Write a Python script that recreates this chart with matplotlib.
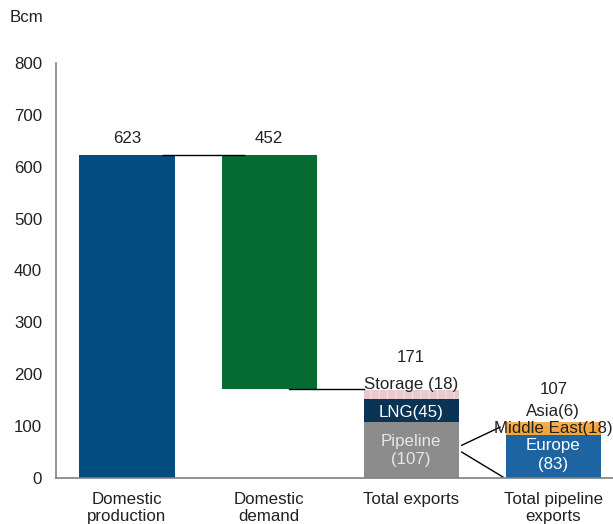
import numpy as np
import matplotlib.pyplot as plt

plt.rcParams['font.family'] = ['Liberation Sans', 'DejaVu Sans']

categories = ["Domestic\nproduction", "Domestic\ndemand", "Total exports", "Total pipeline\nexports"]
production = 623
demand = 452
exports_total = 171
export_parts = [107, 45, 18]          # pipeline, LNG, storage
export_names = ["Pipeline", "LNG", "Storage"]
pipeline_parts = [83, 18, 6]          # Europe, Middle East, Asia
pipeline_names = ["Europe", "Middle East", "Asia"]
pipeline_total = 107
yticks = [0, 100, 200, 300, 400, 500, 600, 700, 800]

c_prod = '#014c80'
c_dem = '#066b31'
c_pipe = '#8c8c8c'
c_lng = '#0b3356'
c_stor = '#eac7cb'
c_eur = '#1d64a3'
c_me = '#f5a53e'
c_asia = '#f3b04e'

fig = plt.figure(figsize=(6.13, 5.24), dpi=100)
ax = fig.add_axes([56/613, 1-478/524, 1-56/613, (478-63)/524])

w = 0.67
x = np.arange(len(categories))

ax.bar(x[0], production, w, color=c_prod)
ax.bar(x[1], demand, w, bottom=production-demand, color=c_dem)

bottom = 0
cols = [c_pipe, c_lng, c_stor]
for v, c in zip(export_parts, cols):
    b = ax.bar(x[2], v, w, bottom=bottom, color=c)
    if c == c_stor:
        b[0].set_hatch('||')
        b[0].set_edgecolor('#f4dde0')
        b[0].set_linewidth(0)
    bottom += v

bottom = 0
for v, c in zip(pipeline_parts, [c_eur, c_me, c_asia]):
    ax.bar(x[3], v, w, bottom=bottom, color=c)
    bottom += v

# connector lines
ax.plot([x[0]+0.25, x[1]-0.18], [production, production], color='black', lw=1)
ax.plot([x[1]+0.14, x[2]-0.33], [exports_total, exports_total], color='black', lw=1)
ax.plot([x[2]+w/2+0.02, x[3]-w/2-0.04], [63, 98], color='black', lw=1)
ax.plot([x[2]+w/2+0.02, x[3]-w/2-0.02], [50, 2], color='black', lw=1)

fs = 12.2
tc = '#222222'
ax.text(x[0], 655, str(production), ha='center', va='center', fontsize=fs, color=tc)
ax.text(x[1], 655, str(demand), ha='center', va='center', fontsize=fs, color=tc)
ax.text(x[2], 233, str(exports_total), ha='center', va='center', fontsize=fs, color=tc)
ax.text(x[2], 181, "%s (%d)" % (export_names[2], export_parts[2]), ha='center', va='center', fontsize=fs, color=tc)
ax.text(x[2], 127, "%s(%d)" % (export_names[1], export_parts[1]), ha='center', va='center', fontsize=fs, color='white')
ax.text(x[2], 53, "%s\n(%d)" % (export_names[0], export_parts[0]), ha='center', va='center', fontsize=fs, color='#e6e6e6', linespacing=1.3)
ax.text(x[3], 171, str(pipeline_total), ha='center', va='center', fontsize=fs, color=tc)
ax.text(x[3], 129, "%s(%d)" % (pipeline_names[2], pipeline_parts[2]), ha='center', va='center', fontsize=fs, color=tc)
ax.text(x[3], 96, "%s(%d)" % (pipeline_names[1], pipeline_parts[1]), ha='center', va='center', fontsize=fs, color=tc)
ax.text(x[3], 44, "%s\n(%d)" % (pipeline_names[0], pipeline_parts[0]), ha='center', va='center', fontsize=fs, color='white', linespacing=1.3)

ax.set_xlim(-0.5, 3.42)
ax.set_ylim(0, 800)
ax.set_yticks(yticks)
ax.set_xticks(x)
ax.set_xticklabels(categories, fontsize=fs, color=tc, linespacing=1.15)
ax.tick_params(axis='y', length=0, labelsize=fs, labelcolor=tc, pad=10)
ax.tick_params(axis='x', length=0, pad=10)
for s in ['top', 'right']:
    ax.spines[s].set_visible(False)
ax.spines['left'].set_color('#808080')
ax.spines['bottom'].set_color('#808080')
ax.spines['left'].set_linewidth(1.2)
ax.spines['bottom'].set_linewidth(1.2)

fig.text(10/613, 1-18/524, "Bcm", ha='left', va='center', fontsize=fs, color=tc)

fig.savefig('out.png', dpi=100)
